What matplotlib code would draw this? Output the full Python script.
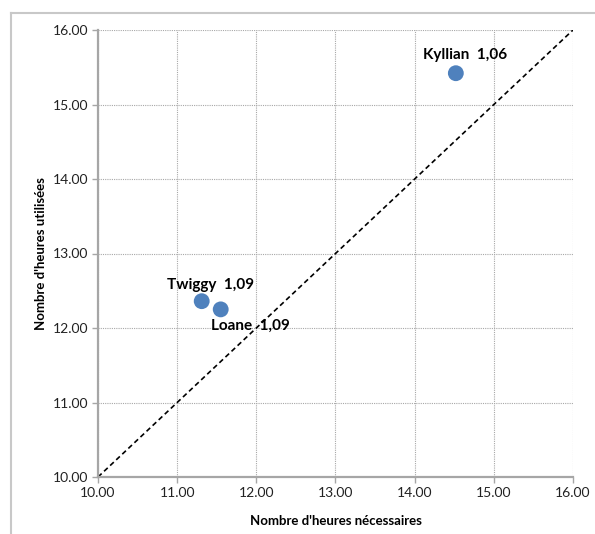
import matplotlib
matplotlib.use("Agg")
import matplotlib.pyplot as plt
from matplotlib.lines import Line2D

names = ["Kyllian", "Twiggy", "Loane"]
ratios = ["1,06", "1,09", "1,09"]
heures_necessaires = [14.52, 11.31, 11.55]
heures_utilisees = [15.42, 12.36, 12.25]
ticks = [10, 11, 12, 13, 14, 15, 16]

plt.rcParams['font.family'] = ['Lato', 'DejaVu Sans']

fig = plt.figure(figsize=(5.95, 5.34), dpi=100)
ax = fig.add_axes([98/595, 1-477/534, (573-98)/595, (477-30)/534])

ax.set_xlim(10, 16)
ax.set_ylim(10, 16)
ax.set_xticks(ticks)
ax.set_yticks(ticks)
ax.set_xticklabels([f"{t:.2f}" for t in ticks], fontsize=10, color="#222222")
ax.set_yticklabels([f"{t:.2f}" for t in ticks], fontsize=10, color="#222222")
ax.grid(True, linestyle=(0, (1, 1)), color="#a8a8a8", linewidth=0.8)
ax.set_axisbelow(True)
for s in ["top", "right"]:
    ax.spines[s].set_visible(False)
for s in ["left", "bottom"]:
    ax.spines[s].set_color("#a6a6a6")
    ax.spines[s].set_linewidth(1.6)
ax.tick_params(direction="out", length=4, color="#a6a6a6", width=1, pad=3)

ax.plot([10, 16], [10, 16], linestyle=(0, (3, 2)), color="black", linewidth=1.2, zorder=2)
ax.scatter(heures_necessaires, heures_utilisees, s=130, color="#4f81bd", zorder=3, edgecolors="none")

offsets = [(7, 13), (6.5, 11.5), (21.5, -12)]
for n, r, x, y, (dx, dy) in zip(names, ratios, heures_necessaires, heures_utilisees, offsets):
    ax.annotate(f"{n}  {r}", (x, y), xytext=(dx, dy), textcoords="offset points",
                ha="center", va="center", fontsize=11, fontweight="bold", color="black", zorder=4)

ax.set_xlabel("Nombre d'heures nécessaires", fontsize=9.5, fontweight="bold", labelpad=12)
ax.set_ylabel("Nombre d'heures utilisées", fontsize=9.5, fontweight="bold", labelpad=4)

fig.add_artist(Line2D([11/595, 11/595], [0, 1-13/534], color="#c8c8c8", linewidth=1.5, transform=fig.transFigure))
fig.add_artist(Line2D([11/595, 1], [1-13/534, 1-13/534], color="#c8c8c8", linewidth=1.5, transform=fig.transFigure))

fig.savefig("out.png", dpi=100)
